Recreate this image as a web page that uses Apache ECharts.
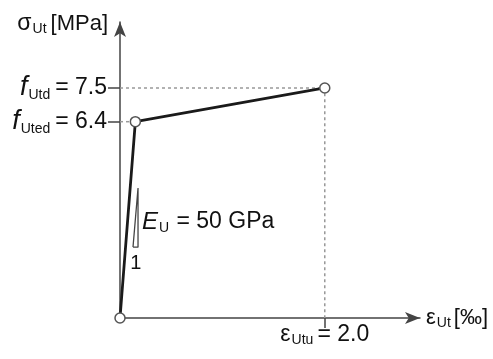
<!DOCTYPE html>
<html>
<head>
<meta charset="utf-8">
<script src="https://cdn.jsdelivr.net/npm/echarts@6/dist/echarts.min.js"></script>
<style>html,body{margin:0;padding:0;background:#fff}#c{width:493px;height:359px}</style>
</head>
<body>
<div id="c"></div>
<script>
// strain [‰] and stress [MPa] of the bilinear diagram
const strain = [0, 0.15, 2.0];
const stress = [0, 6.4, 7.5];
// labelled ticks
const yTickValues = [6.4, 7.5];
const yTickNames = ['Uted', 'Utd'];
const xTickValues = [2.0];
const xTickNames = ['Utu'];
// slope triangle (strain, stress)
const triStrain = [0.127, 0.176, 0.176, 0.127];
const triStress = [2.31, 2.31, 4.24, 2.31];
// annotation anchors
const annStrain = [0.21, 0.095];
const annStress = [3.13, 1.79];
const annText = ['{e|E}{s|U}{n| = 50 GPa}', '{one|1}'];

const FONT = 'Liberation Sans';
const chart = echarts.init(document.getElementById('c'));

const mainData = strain.map((v, i) => [v, stress[i]]);
const guide1 = [[0, stress[2]], [strain[2], stress[2]], [strain[2], 0]];
const guide2 = [[0, stress[1]], [strain[1], stress[1]]];
const triData = triStrain.map((v, i) => [v, triStress[i]]);
const annData = annStrain.map((v, i) => ({value: [v, annStress[i]], label: {formatter: annText[i]}}));

const subStyle = (pt, pr) => ({fontFamily: FONT, fontSize: 14, color: '#111', verticalAlign: 'bottom', lineHeight: 15, padding: [pt, pr, 0, 1]});

chart.setOption({
  animation: false,
  backgroundColor: '#fff',
  grid: {left: 120, right: 73, top: 22, bottom: 41},
  xAxis: {
    type: 'value', min: 0, max: 2.93,
    splitLine: {show: false},
    axisLine: {onZero: false, lineStyle: {color: '#444', width: 1.5}, symbol: ['none', 'arrow'], symbolSize: [9, 15], symbolOffset: [0, 0]},
    axisTick: {show: true, customValues: xTickValues, length: 10, lineStyle: {color: '#444', width: 1.5}},
    axisLabel: {
      customValues: xTickValues, margin: 4,
      formatter: v => '{g|ε}{s|' + xTickNames[xTickValues.indexOf(v)] + '}{n|= ' + v.toFixed(1) + '}',
      rich: {
        g: {fontFamily: FONT, fontSize: 23, color: '#111', lineHeight: 25},
        s: subStyle(13, 4),
        n: {fontFamily: FONT, fontSize: 23, color: '#111', lineHeight: 25}
      }
    },
    name: '{g|ε}{s|Ut}{n|[‰]}',
    nameLocation: 'end', nameGap: 6,
    nameTextStyle: {
      align: 'left', verticalAlign: 'middle',
      rich: {
        g: {fontFamily: FONT, fontSize: 22, color: '#111', lineHeight: 24},
        s: subStyle(12, 3),
        n: {fontFamily: FONT, fontSize: 22, color: '#111', lineHeight: 24}
      }
    }
  },
  yAxis: {
    type: 'value', min: 0, max: 9.65,
    splitLine: {show: false},
    axisLine: {onZero: false, lineStyle: {color: '#444', width: 1.5}, symbol: ['none', 'arrow'], symbolSize: [9, 15], symbolOffset: [0, 0]},
    axisTick: {show: true, customValues: yTickValues, length: 12, lineStyle: {color: '#444', width: 1.5}},
    axisLabel: {
      customValues: yTickValues, margin: 13,
      formatter: v => '{f|f}{s|' + yTickNames[yTickValues.indexOf(v)] + '}{n|= ' + v.toFixed(1) + '}',
      rich: {
        f: {fontFamily: FONT, fontSize: 27, fontStyle: 'italic', color: '#111', lineHeight: 28},
        s: subStyle(15, 5),
        n: {fontFamily: FONT, fontSize: 23, color: '#111', lineHeight: 28}
      }
    },
    name: '{g|σ}{s|Ut}{n|[MPa]}',
    nameLocation: 'end', nameGap: -2,
    nameTextStyle: {
      align: 'right', verticalAlign: 'middle', padding: [0, 12, 0, 0],
      rich: {
        g: {fontFamily: FONT, fontSize: 23, color: '#111', lineHeight: 24},
        s: subStyle(12, 4),
        n: {fontFamily: FONT, fontSize: 22, color: '#111', lineHeight: 24}
      }
    }
  },
  series: [
    {type: 'line', data: guide1, symbol: 'none', lineStyle: {color: '#999', width: 1.5, type: [3, 3]}, z: 1},
    {type: 'line', data: guide2, symbol: 'none', lineStyle: {color: '#999', width: 1.5, type: [3, 3]}, z: 1},
    {type: 'line', data: triData, symbol: 'none', lineStyle: {color: '#444', width: 1.3}, z: 2},
    {type: 'line', data: mainData, symbol: 'circle', symbolSize: 10, showAllSymbol: true,
      lineStyle: {color: '#1a1a1a', width: 2.8},
      itemStyle: {color: '#fff', borderColor: '#555', borderWidth: 1.5}, z: 5},
    {type: 'scatter', data: annData, symbolSize: 1, z: 6,
      itemStyle: {opacity: 1, color: 'rgba(0,0,0,0)'},
      label: {show: true, position: 'right', distance: 0, opacity: 1,
        rich: {
          e: {fontFamily: FONT, fontSize: 24, fontStyle: 'italic', color: '#111', lineHeight: 26},
          s: subStyle(14, 1),
          n: {fontFamily: FONT, fontSize: 23, color: '#111', lineHeight: 26},
          one: {fontFamily: FONT, fontSize: 20, color: '#111'}
        }}}
  ]
});
</script>
</body>
</html>
